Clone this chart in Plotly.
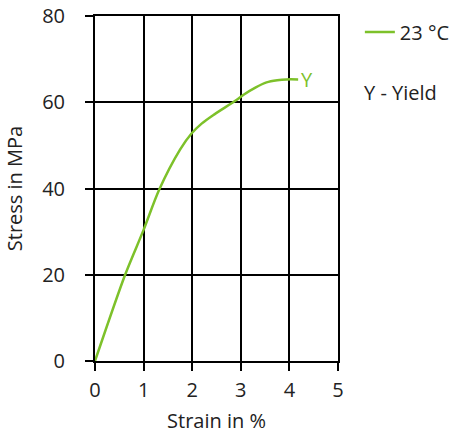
import plotly.graph_objects as go

strain = [0.0, 0.62, 1.0, 1.32, 1.75, 1.99, 2.2, 2.43, 2.91, 3.05, 3.3, 3.53, 3.75, 3.94, 4.18]
stress = [0.0, 20.0, 30.4, 39.7, 49.0, 52.8, 55.1, 57.0, 60.5, 61.7, 63.4, 64.6, 65.1, 65.3, 65.3]
series_name = "23 °C"
x_ticks = [0, 1, 2, 3, 4, 5]
y_ticks = [0, 20, 40, 60, 80]

green = "#7dc12a"
font = dict(family="Open Sans", size=20, color="#222222")

fig = go.Figure()
fig.add_trace(go.Scatter(x=strain, y=stress, mode="lines", name=series_name,
                         line=dict(color=green, width=2.5, shape="spline", smoothing=0.8)))

axis_common = dict(showgrid=True, gridcolor="black", gridwidth=2, zeroline=False,
                   showline=True, linecolor="black", linewidth=2, mirror=True,
                   ticks="outside", ticklen=8, tickwidth=2, tickcolor="black",
                   tickfont=font, automargin=False)
fig.update_xaxes(range=[0, 5], tickvals=x_ticks, ticklabelstandoff=2,
                 title=dict(text="Strain in %", font=font, standoff=16), **axis_common)
fig.update_yaxes(range=[0, 80], tickvals=y_ticks, ticklabelstandoff=16,
                 title=dict(text="Stress in MPa", font=font, standoff=14), **axis_common)

fig.add_annotation(x=strain[-1], y=stress[-1], text="Y", showarrow=False, xanchor="left",
                   yanchor="middle", xshift=1, font=dict(family="Open Sans", size=20, color=green))
fig.add_annotation(x=1.1, y=0.777, xref="paper", yref="paper", text="Y - Yield", showarrow=False,
                   xanchor="left", yanchor="middle", font=font)

fig.update_layout(width=453, height=434, margin=dict(l=95, r=115, t=16, b=73, autoexpand=False),
                  plot_bgcolor="white", paper_bgcolor="white", font=font,
                  showlegend=True,
                  legend=dict(x=1.09, y=1.01, xanchor="left", yanchor="top", font=font,
                              bgcolor="rgba(0,0,0,0)"))

fig.write_html("out.html", config={"displayModeBar": False},
               post_script="document.body.style.margin='0';document.body.style.overflow='hidden';")
